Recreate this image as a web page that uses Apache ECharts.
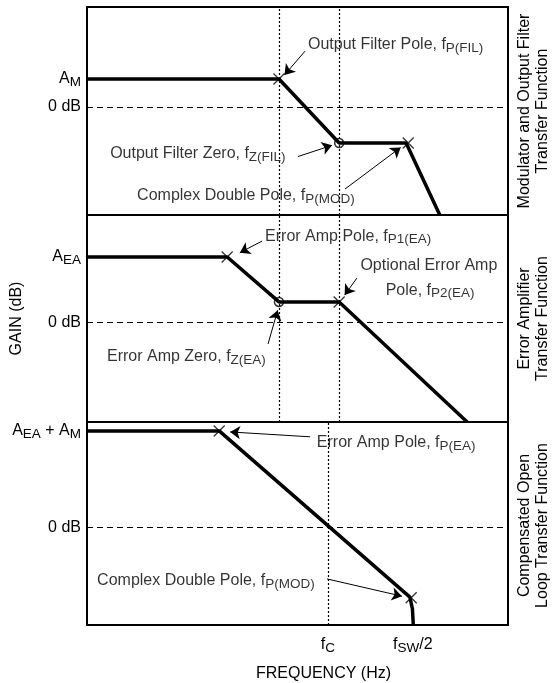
<!DOCTYPE html>
<html><head><meta charset="utf-8">
<script src="https://cdn.jsdelivr.net/npm/echarts@6/dist/echarts.min.js"></script>
<style>html,body{margin:0;padding:0;background:#fff}#c{width:553px;height:683px}</style>
</head><body><div id="c"></div>
<script>
// Frequency axis: abstract log-frequency units 0..100; gain axis: abstract dB units.
const xTickValues = [57.2, 77.4];
const xTickLabels = ['{m|f}{s|C}', '{m|f}{s|SW}{m|/2}'];

// Panel 1: Modulator and Output Filter
const curveMod = [[0, 13.4], [45.6, 13.4], [59.9, -17.4], [75.8, -17.4], [83.8, -52]];
const crossesMod = [[45.6, 13.4], [76.3, -17.4]];
const circlesMod = [[59.9, -17.4]];
const guidesMod = [45.6, 59.9];
const yTicksMod = [13.4, 0];
const yLabelsMod = ['{m|A}{s|M}', '{m|0 dB}'];
const notesMod = [
  ['{m|Output Filter Pole, f}{s|P(FIL)}', 52.5, 29.7, 'left'],
  ['{m|Output Filter Zero, f}{s|Z(FIL)}', 5.5, -22.7, 'left'],
  ['{m|Complex Double Pole, f}{s|P(MOD)}', 11.9, -42.9, 'left']
];
const arrowsMod = [
  [51.8, 26.8, 46.9, 15.3],
  [50.1, -23.9, 58.2, -18.5],
  [61.3, -39.5, 74.5, -19.5]
];

// Panel 2: Error Amplifier
const curveEA = [[0, 31.7], [33.3, 31.7], [45.6, 10.0], [59.9, 10.0], [90.3, -48]];
const crossesEA = [[33.3, 31.7], [59.9, 10.0]];
const circlesEA = [[45.6, 10.0]];
const guidesEA = [45.6, 59.9];
const yTicksEA = [31.7, 0];
const yLabelsEA = ['{m|A}{s|EA}', '{m|0 dB}'];
const notesEA = [
  ['{m|Error Amp Pole, f}{s|P1(EA)}', 42.3, 41.8, 'left'],
  ['{m|Optional Error Amp}', 81.2, 27.8, 'center'],
  ['{m|Pole, f}{s|P2(EA)}', 81.5, 15.7, 'center'],
  ['{m|Error Amp Zero, f}{s|Z(EA)}', 4.75, -16.6, 'left']
];
const arrowsEA = [
  [41.6, 39.4, 36.3, 33.8],
  [64.1, 21.5, 61.2, 13.3],
  [43.0, -10.3, 45.3, 6.0]
];

// Panel 3: Compensated Open Loop
const curveOL = [[0, 47.6], [31.4, 47.6], [76.7, -34.3], [77.3, -40], [77.5, -48]];
const crossesOL = [[31.4, 47.6], [77.0, -34.6]];
const circlesOL = [];
const guidesOL = [57.2];
const yTicksOL = [47.6, 0];
const yLabelsOL = ['{m|A}{s|EA}{m| + A}{s|M}', '{m|0 dB}'];
const notesOL = [
  ['{m|Error Amp Pole, f}{s|P(EA)}', 54.6, 41.8, 'left'],
  ['{m|Complex Double Pole, f}{s|P(MOD)}', 2.4, -26.3, 'left']
];
const arrowsOL = [
  [53.0, 44.7, 34.0, 47.1],
  [57.0, -25.3, 74.8, -33.8]
];

const panelTitles = ['Modulator and Output Filter\nTransfer Function',
                     'Error Amplifier\nTransfer Function',
                     'Compensated Open\nLoop Transfer Function'];

const FF = '"Liberation Sans", Arial, Helvetica, sans-serif';
const RICH = {
  m: {fontSize: 16, fontFamily: FF, color: '#000'},
  s: {fontSize: 13.5, fontFamily: FF, color: '#000', padding: [7, 0, 0, 0]}
};

const panels = [
  {curve: curveMod, crosses: crossesMod, circles: circlesMod, guides: guidesMod, yTicks: yTicksMod, yLabels: yLabelsMod, notes: notesMod, arrows: arrowsMod, min: -52, max: 48},
  {curve: curveEA, crosses: crossesEA, circles: circlesEA, guides: guidesEA, yTicks: yTicksEA, yLabels: yLabelsEA, notes: notesEA, arrows: arrowsEA, min: -48, max: 52},
  {curve: curveOL, crosses: crossesOL, circles: circlesOL, guides: guidesOL, yTicks: yTicksOL, yLabels: yLabelsOL, notes: notesOL, arrows: arrowsOL, min: -48, max: 52}
];

const gridTops = [7, 215, 422];
const gridHeights = [208, 207, 207];

const grid = [], xAxis = [], yAxis = [], series = [], graphic = [];
panels.forEach((p, i) => {
  grid.push({left: 87, top: gridTops[i], width: 421, height: gridHeights[i], show: true, borderColor: '#000', borderWidth: 2, backgroundColor: 'transparent'});
  const isLast = i === panels.length - 1;
  xAxis.push({
    type: 'value', gridIndex: i, min: 0, max: 100,
    axisLine: {show: false}, axisTick: {show: false}, splitLine: {show: false},
    axisLabel: isLast ? {
      show: true, customValues: xTickValues, margin: 9, rich: RICH,
      formatter: (v) => xTickLabels[xTickValues.indexOf(v)] || ''
    } : {show: false},
    name: isLast ? 'FREQUENCY (Hz)' : '',
    nameLocation: 'middle', nameGap: 41,
    nameTextStyle: {fontSize: 16, fontFamily: FF, color: '#000', padding: [0, 0, 0, 52]}
  });
  yAxis.push({
    type: 'value', gridIndex: i, min: p.min, max: p.max,
    axisLine: {show: false}, axisTick: {show: false}, splitLine: {show: false},
    axisLabel: {
      show: true, customValues: p.yTicks, margin: 6, rich: RICH,
      formatter: (v) => p.yLabels[p.yTicks.indexOf(v)] || ''
    },
    name: i === 1 ? 'GAIN (dB)' : '',
    nameLocation: 'middle', nameGap: 62, nameRotate: 90,
    nameTextStyle: {fontSize: 16, fontFamily: FF, color: '#000'}
  });
  const guideLines = p.guides.map(g => ({xAxis: g, lineStyle: {type: [2, 2], width: 1.2, color: '#000'}}));
  guideLines.push({yAxis: 0, lineStyle: {type: [6, 4], width: 1.2, color: '#000'}});
  series.push({
    type: 'line', xAxisIndex: i, yAxisIndex: i, data: p.curve, symbol: 'none',
    lineStyle: {color: '#000', width: 3.5}, silent: true, z: 3,
    markLine: {silent: true, symbol: 'none', label: {show: false}, data: guideLines, animation: false}
  });
  series.push({
    type: 'scatter', xAxisIndex: i, yAxisIndex: i, data: p.crosses,
    symbol: 'path://M0,0L10,10M10,0L0,10', symbolSize: 11,
    itemStyle: {color: 'none', borderColor: '#000', borderWidth: 1.3}, silent: true, z: 4
  });
  series.push({
    type: 'scatter', xAxisIndex: i, yAxisIndex: i, data: p.circles,
    symbol: 'circle', symbolSize: 9,
    itemStyle: {color: 'none', borderColor: '#000', borderWidth: 1.5}, silent: true, z: 4
  });
  series.push({
    type: 'scatter', xAxisIndex: i, yAxisIndex: i, symbolSize: 0, silent: true, z: 5,
    data: p.notes.map(n => ({
      value: [n[1], n[2]],
      label: {show: true, formatter: n[0], rich: RICH,
        position: n[3] === 'center' ? 'inside' : 'right', distance: 0,
        align: n[3]}
    })),
    markLine: {
      silent: true, symbol: ['none', 'arrow'], symbolSize: 10,
      label: {show: false}, animation: false,
      lineStyle: {type: 'solid', width: 1, color: '#000'},
      data: p.arrows.map(a => [{coord: [a[0], a[1]]}, {coord: [a[2], a[3]]}])
    }
  });
  graphic.push({
    type: 'text', x: 534, y: gridTops[i] + gridHeights[i] / 2, rotation: Math.PI / 2,
    style: {text: panelTitles[i], font: '16px ' + FF, fill: '#000', align: 'center', verticalAlign: 'middle', lineHeight: 18}
  });
});

const chart = echarts.init(document.getElementById('c'), null, {renderer: 'canvas'});
chart.setOption({animation: false, backgroundColor: '#fff', grid, xAxis, yAxis, series, graphic});
</script>
</body></html>
